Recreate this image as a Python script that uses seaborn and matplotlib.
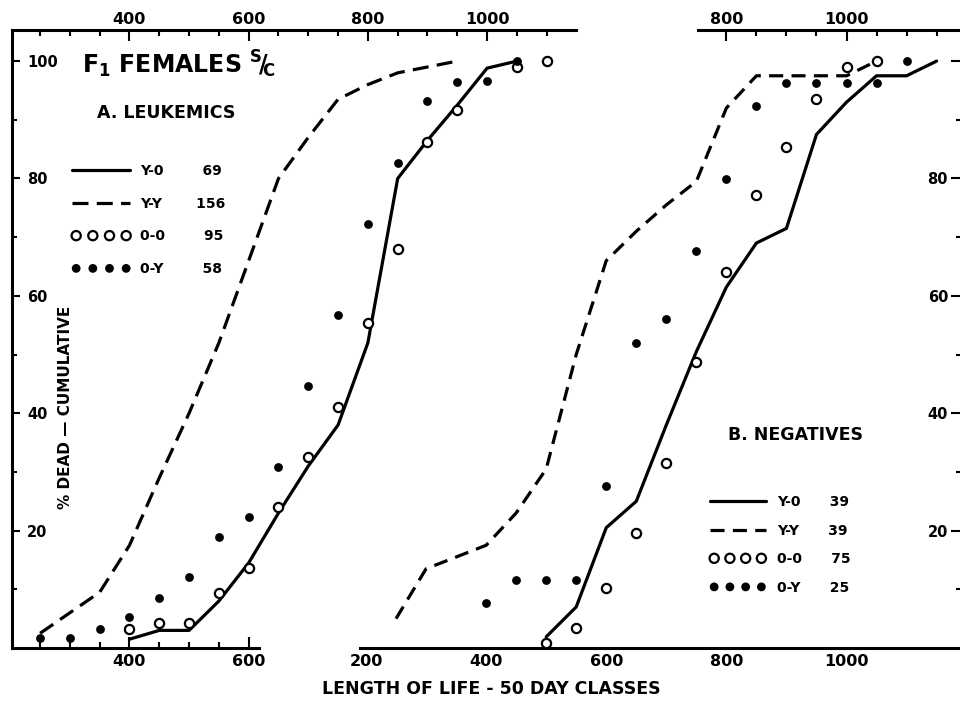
import matplotlib
matplotlib.use("Agg")
import matplotlib.pyplot as plt
import seaborn as sns

# Panel A - leukemics (days, cumulative % dead)
a_y0_days = [400, 450, 500, 550, 600, 650, 700, 750, 800, 850, 900, 950, 1000, 1050]
a_y0_pct = [1.5, 3, 3, 8, 14.5, 23, 31, 38, 52, 80, 86.5, 92.5, 98.8, 100]
a_yy_days = [250, 300, 350, 400, 450, 500, 550, 600, 650, 700, 750, 800, 850, 900, 950]
a_yy_pct = [2.5, 6, 9.5, 17.5, 29, 40, 52, 66, 80, 87, 93.5, 96, 98, 99, 100]
a_oo_days = [400, 450, 500, 550, 600, 650, 700, 750, 800, 850, 900, 950, 1050, 1100]
a_oo_pct = [3.2, 4.2, 4.2, 9.4, 13.6, 24, 32.5, 41, 55.4, 68, 86.2, 91.6, 99, 100]
a_oy_days = [250, 300, 350, 400, 450, 500, 550, 600, 650, 700, 750, 800, 850, 900, 950, 1000, 1050]
a_oy_pct = [1.7, 1.7, 3.2, 5.3, 8.5, 12.1, 18.9, 22.4, 30.8, 44.6, 56.8, 72.3, 82.7, 93.2, 96.4, 96.6, 100]
a_labels = ["Y-0        69", "Y-Y       156", "0-0        95", "0-Y        58"]

# Panel B - negatives
b_y0_days = [500, 550, 600, 650, 700, 750, 800, 850, 900, 950, 1000, 1050, 1100, 1150]
b_y0_pct = [1.9, 7, 20.5, 25, 38, 50.5, 61.5, 69, 71.5, 87.5, 93, 97.5, 97.5, 100]
b_yy_days = [250, 300, 350, 400, 450, 500, 550, 600, 650, 700, 750, 800, 850, 900, 950, 1000, 1050]
b_yy_pct = [5, 13.5, 15.5, 17.5, 23, 30.5, 50, 66, 71, 75.5, 79.5, 92, 97.5, 97.5, 97.5, 97.5, 100]
b_oo_days = [500, 550, 600, 650, 700, 750, 800, 850, 900, 950, 1000, 1050]
b_oo_pct = [0.9, 3.4, 10.2, 19.6, 31.6, 48.8, 64, 77.2, 85.4, 93.5, 99, 100]
b_oy_days = [400, 450, 500, 550, 600, 650, 700, 750, 800, 850, 900, 950, 1000, 1050, 1100]
b_oy_pct = [7.6, 11.6, 11.6, 11.6, 27.6, 51.9, 56, 67.7, 79.9, 92.3, 96.3, 96.3, 96.3, 96.3, 100]
b_labels = ["Y-0      39", "Y-Y      39", "0-0      75", "0-Y      25"]

sns.set_style("white")
plt.rcParams["font.family"] = ["DejaVu Sans"]
plt.rcParams["font.weight"] = "bold"
plt.rcParams["mathtext.fontset"] = "dejavusans"
plt.rcParams["text.color"] = "black"
plt.rcParams["axes.labelcolor"] = "black"
plt.rcParams["legend.labelcolor"] = "black"

W, H = 960, 704


def fig_xy(px, py):
    return px / W, 1 - py / H


fig = plt.figure(figsize=(9.6, 7.04), dpi=100)
rect = [12 / W, 56 / H, 950 / W, 618 / H]
ax_a = fig.add_axes(rect)
ax_b = fig.add_axes(rect)
ax_b.patch.set_alpha(0)

line_kw = dict(color="black", linewidth=2.3, estimator=None, sort=False, legend=False)
open_kw = dict(s=44, color="white", edgecolor="black", linewidth=1.6, zorder=3, legend=False)
dot_kw = dict(s=40, color="black", edgecolor="black", linewidth=0, zorder=3, legend=False)


def draw_panel(ax, series, labels, dash):
    (y0x, y0y), (yyx, yyy), (oox, ooy), (oyx, oyy) = series
    sns.lineplot(x=y0x, y=y0y, ax=ax, label=labels[0], solid_joinstyle="round", **line_kw)
    sns.lineplot(x=yyx, y=yyy, ax=ax, label=labels[1], linestyle=(0, dash), **line_kw)
    sns.scatterplot(x=oox, y=ooy, ax=ax, label=labels[2], **open_kw)
    sns.scatterplot(x=oyx, y=oyy, ax=ax, label=labels[3], **dot_kw)


draw_panel(ax_a, [(a_y0_days, a_y0_pct), (a_yy_days, a_yy_pct),
                  (a_oo_days, a_oo_pct), (a_oy_days, a_oy_pct)], a_labels, (5, 2.6))
draw_panel(ax_b, [(b_y0_days, b_y0_pct), (b_yy_days, b_yy_pct),
                  (b_oo_days, b_oo_pct), (b_oy_days, b_oy_pct)], b_labels, (4.4, 2.6))

for ax in (ax_a, ax_b):
    ax.set_ylim(0, 105.3)
    ax.set_xlabel("")
    ax.set_ylabel("")
    for sp in ax.spines.values():
        sp.set_linewidth(2.2)
        sp.set_color("black")
ax_a.set_xlim(202.9, 1796.8)
ax_b.set_xlim(-389.4, 1192.3)

tk = dict(direction="in", width=1.5, color="black", labelcolor="black")

# panel A: left and bottom axes
ax_a.spines["top"].set_visible(False)
ax_a.spines["right"].set_visible(False)
ax_a.spines["bottom"].set_bounds(203, 617)
ax_a.set_xticks([400, 600], labels=["400", "600"])
ax_a.set_xticks([250, 300, 350, 450, 500, 550], minor=True)
ax_a.set_yticks([20, 40, 60, 80, 100], labels=["20", "40", "60", "80", "100"])
ax_a.set_yticks([10, 30, 50, 70, 90], minor=True)
ax_a.tick_params(axis="x", which="major", length=8, pad=4, labelsize=11.5, **tk)
ax_a.tick_params(axis="x", which="minor", length=4.5, **tk)
ax_a.tick_params(axis="y", which="major", length=6, pad=-11, labelsize=10.5, **tk)
ax_a.tick_params(axis="y", which="minor", length=3.5, **tk)
ax_a.tick_params(top=False, right=False, bottom=True, left=True, which="both")

top_a = ax_a.secondary_xaxis("top")
top_a.spines["top"].set_bounds(203, 1149)
top_a.spines["top"].set_linewidth(2.2)
top_a.spines["top"].set_color("black")
top_a.set_xticks([400, 600, 800, 1000], labels=["400", "600", "800", "1000"])
top_a.set_xticks([250, 300, 350, 450, 500, 550, 650, 700, 750, 850, 900, 950, 1050, 1100], minor=True)
top_a.tick_params(axis="x", which="major", length=8, pad=2, labelsize=11.5, **tk)
top_a.tick_params(axis="x", which="minor", length=4.5, **tk)

# panel B: right and bottom axes
ax_b.spines["top"].set_visible(False)
ax_b.spines["left"].set_visible(False)
ax_b.spines["bottom"].set_bounds(190, 1192.3)
ax_b.set_xticks([200, 400, 600, 800, 1000], labels=["200", "400", "600", "800", "1000"])
ax_b.set_xticks([250, 300, 350, 450, 500, 550, 650, 700, 750, 850, 900, 950, 1050, 1100, 1150], minor=True)
ax_b.yaxis.tick_right()
ax_b.set_yticks([20, 40, 60, 80, 100], labels=["20", "40", "60", "80", ""])
ax_b.set_yticks([10, 30, 50, 70, 90], minor=True)
ax_b.tick_params(axis="x", which="major", length=8, pad=4, labelsize=11.5, **tk)
ax_b.tick_params(axis="x", which="minor", length=4.5, **tk)
ax_b.tick_params(axis="y", which="major", length=8, pad=-10, labelsize=10.5, **tk)
ax_b.tick_params(axis="y", which="minor", length=4, **tk)
ax_b.tick_params(top=False, left=False, labelleft=False, right=True, labelright=True, which="both")

top_b = ax_b.secondary_xaxis("top")
top_b.spines["top"].set_bounds(753, 1192.3)
top_b.spines["top"].set_linewidth(2.2)
top_b.spines["top"].set_color("black")
top_b.set_xticks([800, 1000], labels=["800", "1000"])
top_b.set_xticks([850, 900, 950, 1050, 1100, 1150], minor=True)
top_b.tick_params(axis="x", which="major", length=8, pad=2, labelsize=11.5, **tk)
top_b.tick_params(axis="x", which="minor", length=4.5, **tk)

for lbl in ax_a.get_yticklabels():
    lbl.set_horizontalalignment("left")
for lbl in ax_b.get_yticklabels():
    lbl.set_horizontalalignment("right")

# legends
leg_kw = dict(loc="upper left", bbox_transform=fig.transFigure, frameon=False, borderpad=0,
              borderaxespad=0, scatterpoints=4, scatteryoffsets=[0.5],
              prop={"weight": "bold", "size": 10})
h, l = ax_a.get_legend_handles_labels()
ax_a.legend(h, l, bbox_to_anchor=fig_xy(72, 164), handlelength=4.2, handletextpad=0.7,
            labelspacing=1.35, **leg_kw)
h, l = ax_b.get_legend_handles_labels()
ax_b.legend(h, l, bbox_to_anchor=fig_xy(710, 495), handlelength=4.0, handletextpad=0.85,
            labelspacing=1.05, **leg_kw)

# titles and axis labels
fig.text(*fig_xy(82, 64), r"F$_{\mathbf{1}}$ FEMALES $^{\mathbf{S}}\!\mathbf{/}\!_{\mathbf{C}}$",
         fontsize=17, fontweight="bold", ha="left", va="center")
fig.text(*fig_xy(97, 113), "A. LEUKEMICS", fontsize=12.5, fontweight="bold", ha="left", va="center")
fig.text(*fig_xy(728, 435), "B. NEGATIVES", fontsize=12.5, fontweight="bold", ha="left", va="center")
fig.text(*fig_xy(491, 689), "LENGTH OF LIFE - 50 DAY CLASSES", fontsize=12.5, fontweight="bold",
         ha="center", va="center")
fig.text(*fig_xy(65, 407), "% DEAD \u2014 CUMULATIVE", fontsize=11, fontweight="bold",
         rotation=90, ha="center", va="center")

fig.savefig("out.png", dpi=100)
